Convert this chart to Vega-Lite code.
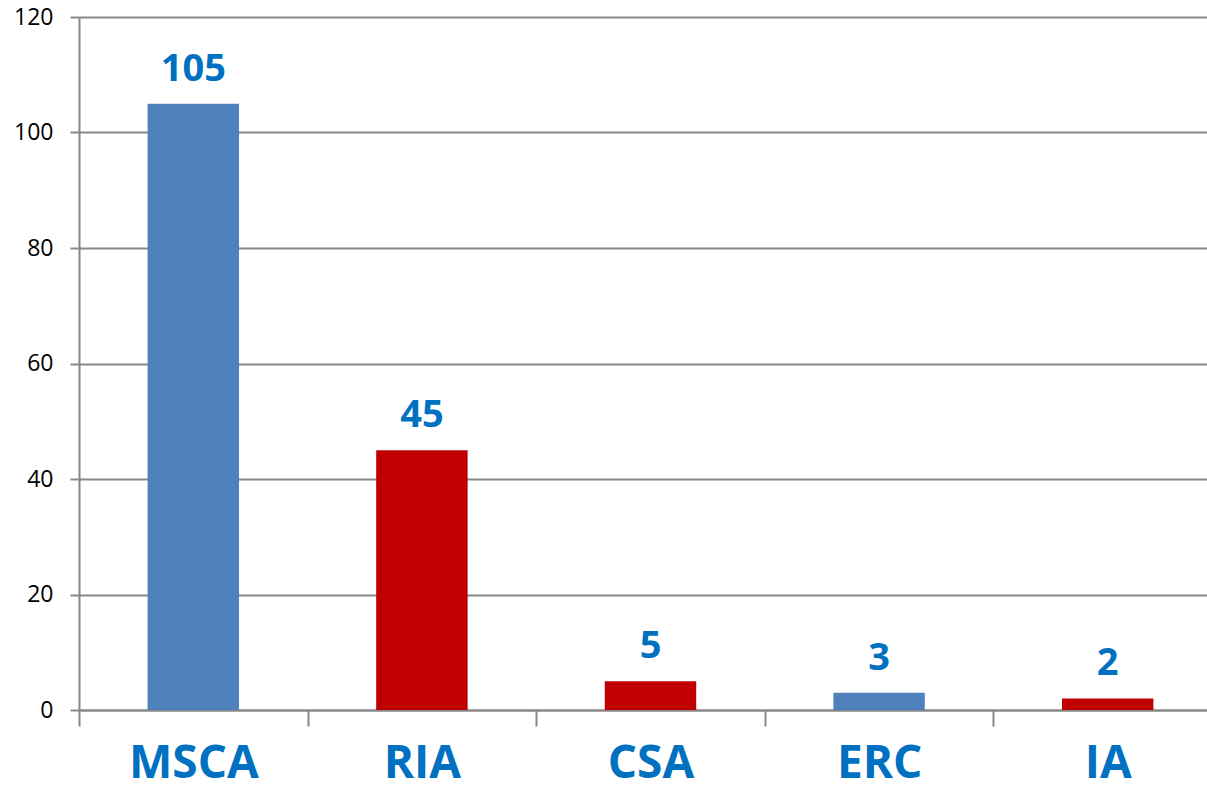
{
  "$schema": "https://vega.github.io/schema/vega-lite/v6.json",
  "autosize": "none",
  "width": 1127,
  "height": 693,
  "padding": {"left": 79, "top": 17, "right": 1, "bottom": 86},
  "background": "white",
  "config": {"view": {"stroke": null}, "font": "Open Sans"},
  "data": {"values": [
    {"programme": "MSCA", "count": 105, "group": "blue"},
    {"programme": "RIA", "count": 45, "group": "red"},
    {"programme": "CSA", "count": 5, "group": "red"},
    {"programme": "ERC", "count": 3, "group": "blue"},
    {"programme": "IA", "count": 2, "group": "red"}
  ]},
  "encoding": {
    "x": {"field": "programme", "type": "nominal", "sort": null,
      "scale": {"paddingInner": 0, "paddingOuter": 0, "range": [0, 1143]},
      "axis": {"title": null, "labelAngle": 0, "labelFont": "Open Sans", "labelFontSize": 46, "labelFontWeight": "bold", "labelColor": "#0070C0", "labelPadding": 15, "tickBand": "extent", "tickSize": 16, "tickColor": "#888888", "tickWidth": 2, "domainColor": "#888888", "domainWidth": 2}},
    "y": {"field": "count", "type": "quantitative",
      "scale": {"domain": [0, 120], "nice": false},
      "axis": {"title": null, "values": [0, 20, 40, 60, 80, 100, 120], "labelFont": "Open Sans", "labelFontSize": 23, "labelColor": "#000000", "labelPadding": 17, "tickSize": 9, "tickColor": "#888888", "tickWidth": 2, "domainColor": "#888888", "domainWidth": 2, "gridColor": "#888888", "gridWidth": 2}}
  },
  "layer": [
    {"mark": {"type": "bar", "width": {"band": 0.4}},
     "encoding": {"color": {"field": "group", "type": "nominal", "scale": {"domain": ["blue", "red"], "range": ["#4F81BD", "#C00000"]}, "legend": null}}},
    {"mark": {"type": "text", "baseline": "bottom", "dy": -15, "font": "Open Sans", "fontSize": 38, "fontWeight": "bold", "color": "#0070C0"},
     "encoding": {"text": {"field": "count", "type": "quantitative"}}}
  ]
}
